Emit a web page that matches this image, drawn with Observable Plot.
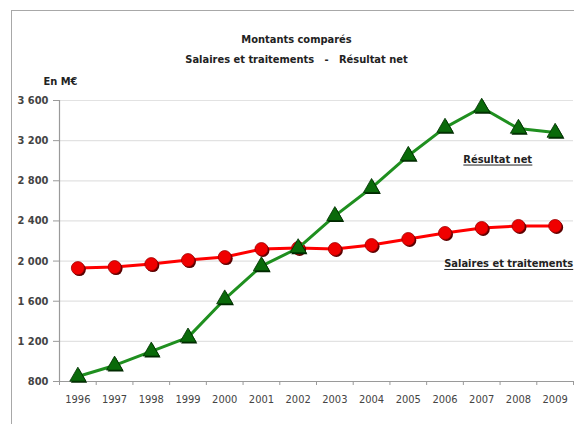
<!DOCTYPE html>
<html><head><meta charset="utf-8">
<script src="https://cdn.jsdelivr.net/npm/d3@7"></script>
<script src="https://cdn.jsdelivr.net/npm/@observablehq/plot@0.6"></script>
<style>
body{margin:0;background:#fff;}
#wrap{position:relative;width:574px;height:424px;overflow:hidden;}
#border{position:absolute;left:11px;top:10px;width:700px;height:600px;border-left:1.5px solid #a8a8a8;border-top:1.5px solid #a8a8a8;}
#wrap svg{position:absolute;left:0;top:0;}
</style></head><body><div id="wrap"><div id="border"></div></div>
<script>
const years = [1996,1997,1998,1999,2000,2001,2002,2003,2004,2005,2006,2007,2008,2009];
const salaires = [1930,1940,1970,2010,2040,2120,2130,2120,2160,2220,2280,2330,2350,2350];
const resultat = [850,960,1100,1240,1620,1950,2130,2450,2730,3050,3330,3530,3320,3280];
const yTicks = [800,1200,1600,2000,2400,2800,3200,3600];
const title = "Montants comparés";
const subtitle = "Salaires et traitements   -   Résultat net";
const unitLabel = "En M€";
const seriesNames = ["Salaires et traitements", "Résultat net"];

const font = '"Liberation Sans Narrow", "DejaVu Sans Condensed", "Liberation Sans", sans-serif';
const sal = years.map((y, i) => ({year: y, value: salaires[i]}));
const res = years.map((y, i) => ({year: y, value: resultat[i]}));
const bounds = years.map(y => y - 0.5).concat([years[years.length - 1] + 0.5]);
const fr = d => d3.format(",")(d).replace(",", " ");
const xDomain = [bounds[0], bounds[bounds.length - 1]];

const chart = Plot.plot({
  width: 574, height: 424,
  marginLeft: 59, marginRight: 1, marginTop: 100, marginBottom: 43,
  style: {fontFamily: font, fontSize: "11px", background: "transparent", overflow: "visible"},
  x: {type: "linear", domain: xDomain},
  y: {domain: [yTicks[0], yTicks[yTicks.length - 1]]},
  marks: [
    Plot.ruleY(yTicks.slice(1), {stroke: "#e2e2e2", strokeWidth: 1.2}),
    Plot.ruleY([yTicks[0]], {stroke: "#9a9a9a", strokeWidth: 1.2}),
    Plot.ruleX([xDomain[0]], {y1: yTicks[0], y2: yTicks[yTicks.length - 1], stroke: "#9a9a9a", strokeWidth: 1.2}),
    Plot.axisY(yTicks, {tickSize: 6, tickPadding: 5, tickFormat: fr, stroke: "#9a9a9a", fill: "#444", fontSize: 11, label: null, fontWeight: "bold"}),
    Plot.axisX(bounds, {tickSize: 4, tickFormat: () => "", stroke: "#9a9a9a", label: null}),
    Plot.axisX(years, {tickSize: 0, tickPadding: 14, tickFormat: d => String(d), fill: "#444", fontSize: 11, label: null}),
    Plot.line(sal, {x: "year", y: "value", stroke: "#ff0000", strokeWidth: 3}),
    Plot.dot(sal, {x: "year", y: "value", r: 6.5, fill: "#5a0000", stroke: "none", dx: 1.5, dy: 1.5}),
    Plot.dot(sal, {x: "year", y: "value", r: 6.5, fill: "#f00000", stroke: "#a00000", strokeWidth: 0.8}),
    Plot.line(res, {x: "year", y: "value", stroke: "#1f8f1f", strokeWidth: 3}),
    Plot.dot(res, {x: "year", y: "value", symbol: "triangle", r: 6, fill: "#002800", stroke: "none", dx: 1.2, dy: 1.5}),
    Plot.dot(res, {x: "year", y: "value", symbol: "triangle", r: 6, fill: "#0a6a0a", stroke: "#003000", strokeWidth: 0.8}),
    Plot.text([title], {frameAnchor: "top", dx: -20, dy: -65, fontWeight: "bold", fontSize: 11, fill: "#222"}),
    Plot.text([subtitle], {frameAnchor: "top", dx: -20, dy: -45, fontWeight: "bold", fontSize: 11, fill: "#222"}),
    Plot.text([unitLabel], {frameAnchor: "top-left", dx: -16, dy: -23, textAnchor: "start", fontWeight: "bold", fontSize: 11, fill: "#222"}),
    Plot.text([res[11]], {x: "year", y: "value", text: () => seriesNames[1], dx: 16, dy: 52, fontWeight: "bold", fontSize: 11, fill: "#222"}),
    Plot.text([sal[13]], {x: "year", y: "value", text: () => seriesNames[0], dx: 18, dy: 38, textAnchor: "end", fontWeight: "bold", fontSize: 11, fill: "#222"})
  ]
});
document.getElementById("wrap").appendChild(chart);
// underline the series labels
const svgSel = d3.select(chart);
svgSel.selectAll("text").filter(function() { return seriesNames.includes(this.textContent); }).each(function() {
  const b = this.getBBox();
  const m = chart.getScreenCTM().inverse().multiply(this.getScreenCTM());
  const a = chart.createSVGPoint(); a.x = b.x; a.y = b.y + b.height;
  const c = chart.createSVGPoint(); c.x = b.x + b.width; c.y = b.y + b.height;
  const p1 = a.matrixTransform(m), p2 = c.matrixTransform(m);
  svgSel.append("line")
    .attr("x1", p1.x).attr("x2", p2.x)
    .attr("y1", p1.y - 1).attr("y2", p2.y - 1)
    .attr("stroke", "#222").attr("stroke-width", 1);
});
</script></body></html>
